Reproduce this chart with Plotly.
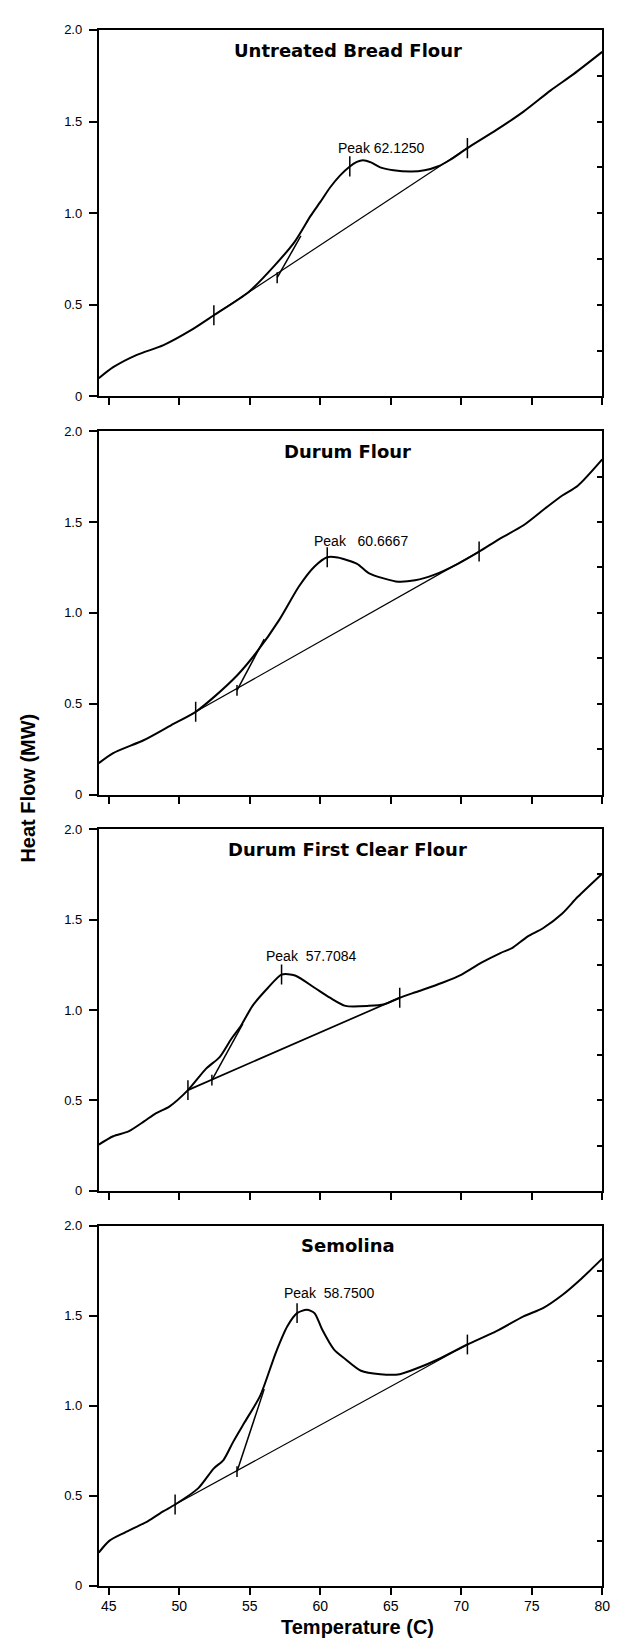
import plotly.graph_objects as go

# ---------------- data ----------------
panel_titles = ["Untreated Bread Flour", "Durum Flour", "Durum First Clear Flour", "Semolina"]
peak_labels = ["Peak 62.1250", "Peak\u00a0\u00a0\u00a060.6667", "Peak\u00a0\u00a057.7084", "Peak\u00a0\u00a058.7500"]

# DSC curves: temperature (C) and heat flow (MW)
t1 = [44.3, 45.32, 46.96, 48.89, 50.81, 52.46, 54.93, 56.76, 58.2, 59.32, 60.0, 60.7, 61.4, 62.1, 62.6, 63.03,
      63.6, 64.26, 65.2, 66.46, 67.4, 68.38, 69.2, 70.44, 72.5, 74.42, 76.35, 77.99, 80.0]
h1 = [0.10, 0.16, 0.226, 0.28, 0.36, 0.443, 0.57, 0.714, 0.845, 0.985, 1.06, 1.14, 1.205, 1.255, 1.280, 1.289,
      1.277, 1.25, 1.234, 1.227, 1.234, 1.256, 1.29, 1.355, 1.454, 1.554, 1.67, 1.76, 1.88]

t2 = [44.3, 45.32, 47.51, 49.44, 51.17, 52.46, 54.1, 55.48, 57.12, 58.5, 59.6, 60.5, 61.24, 62.62, 63.44, 65.36,
      66.73, 68.11, 69.76, 71.27, 72.78, 74.42, 76.07, 77.17, 78.27, 80.0]
h2 = [0.173, 0.228, 0.300, 0.382, 0.455, 0.536, 0.655, 0.782, 0.964, 1.146, 1.255, 1.306, 1.304, 1.27, 1.219, 1.173,
      1.179, 1.21, 1.27, 1.337, 1.41, 1.482, 1.582, 1.646, 1.70, 1.845]

t3 = [44.3, 45.32, 46.41, 47.51, 48.34, 49.3, 50.62, 51.91, 52.87, 53.69, 54.38, 55.2, 56.3, 57.26, 58.22, 59.6,
      60.69, 61.79, 63.44, 64.54, 65.64, 67.01, 68.66, 70.03, 71.4, 72.78, 73.6, 74.7, 75.8, 77.17, 78.27, 80.0]
h3 = [0.256, 0.302, 0.329, 0.384, 0.429, 0.466, 0.557, 0.676, 0.74, 0.84, 0.913, 1.023, 1.123, 1.196, 1.191, 1.123,
      1.068, 1.023, 1.023, 1.032, 1.068, 1.105, 1.151, 1.196, 1.26, 1.315, 1.342, 1.406, 1.452, 1.534, 1.626, 1.754]

t4 = [44.3, 45.04, 46.14, 47.79, 48.89, 49.71, 51.36, 52.46, 53.14, 53.83, 54.65, 55.75, 56.85, 57.67, 58.36, 59.05,
      59.6, 60.14, 60.97, 61.79, 62.89, 64.26, 65.64, 67.01, 68.38, 70.44, 72.5, 74.42, 75.8, 77.17, 78.54, 80.0]
h4 = [0.183, 0.248, 0.294, 0.358, 0.413, 0.45, 0.541, 0.651, 0.697, 0.798, 0.908, 1.055, 1.293, 1.44, 1.513, 1.532,
      1.513, 1.422, 1.312, 1.257, 1.193, 1.174, 1.174, 1.211, 1.257, 1.339, 1.413, 1.495, 1.541, 1.614, 1.706, 1.816]

curves_t = [t1, t2, t3, t4]
curves_h = [h1, h2, h3, h4]

# marked points: onset, peak, end (temperature, heat flow)
onset_t = [52.46, 51.17, 50.62, 49.71]
onset_h = [0.443, 0.455, 0.557, 0.45]
peak_t = [62.1, 60.5, 57.26, 58.36]
peak_h = [1.255, 1.306, 1.196, 1.513]
end_t = [70.44, 71.27, 65.64, 70.44]
end_h = [1.355, 1.337, 1.068, 1.339]

# onset tangent lines (start on baseline -> point on curve)
tan_t0 = [56.95, 54.1, 52.32, 54.1]
tan_h0 = [0.648, 0.573, 0.612, 0.633]
tan_t1 = [58.63, 56.03, 54.51, 56.03]
tan_h1 = [0.876, 0.855, 0.923, 1.091]

# peak label anchor (left edge of text)
label_t = [61.1, 59.45, 56.0, 57.3]
label_h = [1.355, 1.397, 1.297, 1.624]

x_tickvals = [45, 50, 55, 60, 65, 70, 75, 80]
x_ticktext = ["45", "50", "55", "60", "65", "70", "75", "80"]
y_tickvals = [0, 0.5, 1.0, 1.5, 2.0]
y_ticktext = ["0", "0.5", "1.0", "1.5", "2.0"]

# ---------------- layout geometry ----------------
W, H = 618, 1640
x_dom = [92 / W, 602 / W]
panel_px = [(15, 385), (420, 786.7), (821.7, 1186.7), (1221.7, 1585)]
TICK_HALF = 0.055
SMALL_HALF = 0.03

fig = go.Figure()
FONT = "Liberation Sans, Arial, sans-serif"

for i in range(4):
    xa = "x" if i == 0 else f"x{i+1}"
    ya = "y" if i == 0 else f"y{i+1}"
    yr = f"y{i+5}"
    # curve
    fig.add_trace(go.Scatter(x=curves_t[i], y=curves_h[i], mode="lines",
                             line=dict(color="black", width=2, shape="spline", smoothing=0.7),
                             xaxis=xa, yaxis=ya, showlegend=False, hoverinfo="skip"))
    # baseline
    fig.add_trace(go.Scatter(x=[onset_t[i], end_t[i]], y=[onset_h[i], end_h[i]], mode="lines",
                             line=dict(color="black", width=1.7 if i == 2 else 1.2),
                             xaxis=xa, yaxis=ya, showlegend=False, hoverinfo="skip"))
    # tangent
    fig.add_trace(go.Scatter(x=[tan_t0[i], tan_t1[i]], y=[tan_h0[i], tan_h1[i]], mode="lines",
                             line=dict(color="black", width=1.5),
                             xaxis=xa, yaxis=ya, showlegend=False, hoverinfo="skip"))
    # vertical markers at onset, peak, end and small one at tangent base
    vx, vy = [], []
    for tt, hh, half in [(onset_t[i], onset_h[i], TICK_HALF), (peak_t[i], peak_h[i], TICK_HALF),
                         (end_t[i], end_h[i], TICK_HALF), (tan_t0[i], tan_h0[i], SMALL_HALF)]:
        vx += [tt, tt, None]
        vy += [hh - half, hh + half, None]
    fig.add_trace(go.Scatter(x=vx, y=vy, mode="lines", line=dict(color="black", width=1.5),
                             xaxis=xa, yaxis=ya, showlegend=False, hoverinfo="skip", connectgaps=False))
    # dummy trace for right-side tick axis
    fig.add_trace(go.Scatter(x=[None], y=[None], xaxis=xa, yaxis=yr, showlegend=False, hoverinfo="skip"))

    top, bot = panel_px[i]
    y_dom = [1 - bot / H, 1 - top / H]
    xkey = "xaxis" if i == 0 else f"xaxis{i+1}"
    ykey = "yaxis" if i == 0 else f"yaxis{i+1}"
    fig.layout[xkey] = dict(domain=x_dom, anchor=ya, range=[44.3, 80], tickvals=x_tickvals,
                            ticktext=x_ticktext, showticklabels=(i == 3), ticks="outside", ticklen=7,
                            tickwidth=1.5, tickcolor="black", showline=True, mirror=True, linewidth=2,
                            linecolor="black", showgrid=False, zeroline=False, fixedrange=True,
                            tickfont=dict(family=FONT, size=14, color="black"))
    fig.layout[ykey] = dict(domain=y_dom, anchor=xa, range=[0, 2], tickvals=y_tickvals,
                            ticktext=y_ticktext, ticks="outside", ticklen=8, tickwidth=1.5,
                            tickcolor="black", showline=True, mirror=True, linewidth=2,
                            linecolor="black", showgrid=False, zeroline=False, fixedrange=True,
                            ticklabelstandoff=4,
                            tickfont=dict(family=FONT, size=13, color="black"))
    fig.layout[f"yaxis{i+5}"] = dict(overlaying=ya, anchor=xa, side="right", range=[0, 2],
                                     dtick=0.25, tick0=0, ticks="inside", ticklen=5, tickwidth=1.5,
                                     tickcolor="black", showticklabels=False, showline=False,
                                     showgrid=False, zeroline=False, fixedrange=True)

    fig.add_annotation(text="<b>" + panel_titles[i] + "</b>", xref=f"{xa} domain", yref=ya,
                       x=0.495, y=1.89, showarrow=False, xanchor="center", yanchor="middle",
                       font=dict(family="DejaVu Sans, sans-serif", size=18, color="black"))
    fig.add_annotation(text=peak_labels[i], xref=xa, yref=ya, x=label_t[i], y=label_h[i],
                       showarrow=False, xanchor="left", yanchor="middle",
                       font=dict(family=FONT, size=14, color="black"))

fig.add_annotation(text="<b>Heat Flow (MW)</b>", xref="paper", yref="paper", x=20 / W, y=1 - 780 / H,
                   textangle=-90, showarrow=False, xanchor="center", yanchor="middle",
                   font=dict(family=FONT, size=20, color="black"))
fig.add_annotation(text="<b>Temperature (C)</b>", xref="paper", yref="paper", x=354 / W, y=1 - 1627 / H,
                   showarrow=False, xanchor="center", yanchor="middle",
                   font=dict(family=FONT, size=20, color="black"))

fig.update_layout(width=W, height=H, margin=dict(l=0, r=0, t=0, b=0, pad=0),
                  paper_bgcolor="white", plot_bgcolor="white", showlegend=False)

fig.write_html("out.html")
